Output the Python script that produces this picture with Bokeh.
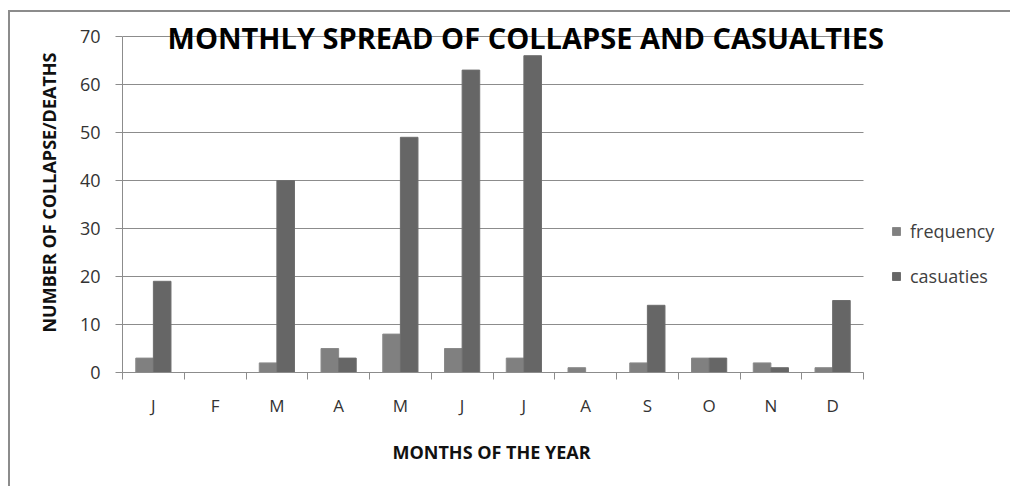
import numpy as np
from bokeh.plotting import figure
from bokeh.models import (ColumnDataSource, Range1d, FixedTicker, Label, Legend, LegendItem, Title)
from bokeh.embed import file_html
from bokeh.resources import INLINE

months = ["J", "F", "M", "A", "M", "J", "J", "A", "S", "O", "N", "D"]
frequency = [3, 0, 2, 5, 8, 5, 3, 1, 2, 3, 2, 1]
casualties = [19, 0, 40, 3, 49, 63, 66, 0, 14, 3, 1, 15]
y_ticks = [0, 10, 20, 30, 40, 50, 60, 70]

n = len(months)
ymax = y_ticks[-1]
centers = np.arange(n) + 0.5
bw = 0.285
src = ColumnDataSource(dict(
    xf=centers - bw / 2, xc=centers + bw / 2,
    freq=frequency, cas=casualties))

FONT = "Open Sans"
GRID = "#8c8c8c"

# plot area: 741 px for the 12 months, 336 px for 0..70; frame extended so
# the overlapping title and legend are not clipped
PW, PH = 741, 336
FW, FH = 888, 360
p = figure(width=1000, height=474, output_backend="svg", toolbar_location=None,
           x_range=Range1d(0, n * FW / PW), y_range=Range1d(0, ymax * FH / PH),
           frame_width=FW, frame_height=FH,
           min_border_left=112, min_border_top=0, min_border_right=0, min_border_bottom=114,
           outline_line_color=None, margin=(10, 0, 0, 8),
           styles={"border-left": "2px solid #8c8c8c", "border-top": "2px solid #8c8c8c"})
p.background_fill_color = "white"
p.border_fill_color = "white"

# horizontal gridlines over the month area only
p.segment(x0=0, x1=n, y0=y_ticks, y1=y_ticks, line_color=GRID, line_width=1)

rf = p.vbar(x="xf", top="freq", width=bw, source=src, fill_color="#808080", line_color="#8a8a8a", line_width=1)
rc = p.vbar(x="xc", top="cas", width=bw, source=src, fill_color="#666666", line_color="#6e6e6e", line_width=1)

xa = p.xaxis[0]
xa.bounds = (0, n)
xa.ticker = FixedTicker(ticks=list(centers), minor_ticks=list(range(n + 1)))
xa.major_label_overrides = {float(c): m for c, m in zip(centers, months)}
xa.major_tick_line_color = None
xa.major_tick_out = 0
xa.major_tick_in = 0
xa.minor_tick_in = 0
xa.minor_tick_out = 7
xa.minor_tick_line_color = GRID
xa.axis_line_color = GRID
xa.major_label_standoff = 14
xa.major_label_text_font = FONT
xa.major_label_text_font_size = "17px"
xa.major_label_text_color = "#333333"

# x-axis title, centred under the month area (not the whole frame)
xtitle = Title(text="MONTHS OF THE YEAR", align="left", offset=270, standoff=37,
               text_font=FONT, text_font_style="bold", text_font_size="18px",
               text_color="#111111")
p.add_layout(xtitle, "below")

ya = p.yaxis[0]
ya.bounds = (0, ymax)
ya.ticker = FixedTicker(ticks=y_ticks, minor_ticks=[])
ya.major_tick_in = 0
ya.major_tick_out = 7
ya.major_tick_line_color = GRID
ya.axis_line_color = GRID
ya.major_label_standoff = 15
ya.major_label_text_font = FONT
ya.major_label_text_font_size = "18px"
ya.major_label_text_color = "#333333"
ya.axis_label = "NUMBER OF COLLAPSE/DEATHS"
ya.axis_label_text_font = FONT
ya.axis_label_text_font_style = "bold"
ya.axis_label_text_font_size = "18px"
ya.axis_label_text_color = "#111111"
ya.axis_label_standoff = 16

p.xgrid.grid_line_color = None
p.ygrid.grid_line_color = None

title = Label(x=6.53, y=ymax, text="MONTHLY SPREAD OF COLLAPSE AND CASUALTIES",
              text_font=FONT, text_font_style="bold", text_font_size="29px",
              text_align="center", text_baseline="middle", text_color="#000000",
              y_offset=-1)
p.add_layout(title)

legend = Legend(items=[LegendItem(label="frequency", renderers=[rf]),
                       LegendItem(label="casuaties", renderers=[rc])],
                location=(769, 84), orientation="vertical",
                padding=0, margin=0, border_line_color=None, background_fill_alpha=0,
                glyph_width=10, glyph_height=10, label_height=20, spacing=21,
                label_standoff=9, label_text_font=FONT, label_text_font_size="18px",
                label_text_color="#404040")
p.add_layout(legend)

open("out.html", "w").write(file_html(p, INLINE))
